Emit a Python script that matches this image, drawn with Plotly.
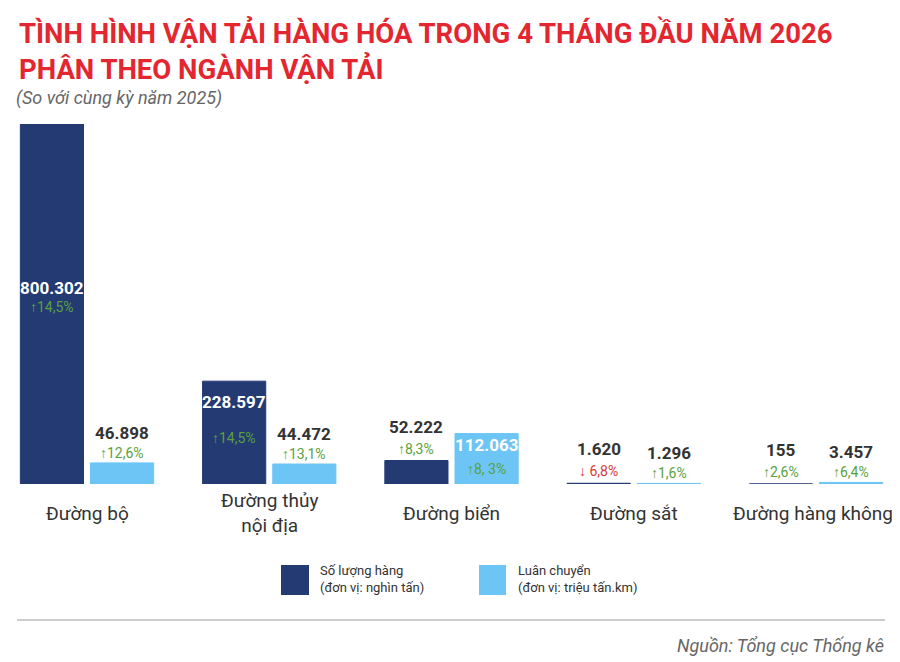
import plotly.graph_objects as go

categories = ["Đường bộ", "Đường thủy<br>nội địa", "Đường biển", "Đường sắt", "Đường hàng không"]
so_luong = [800302, 228597, 52222, 1620, 155]          # nghìn tấn
luan_chuyen = [46898, 44472, 112063, 1296, 3457]        # triệu tấn.km
so_luong_lbl = ["800.302", "228.597", "52.222", "1.620", "155"]
luan_chuyen_lbl = ["46.898", "44.472", "112.063", "1.296", "3.457"]
so_luong_pct = ["↑14,5%", "↑14,5%", "↑8,3%", "↓ 6,8%", "↑2,6%"]
luan_chuyen_pct = ["↑12,6%", "↑13,1%", "↑8, 3%", "↑1,6%", "↑6,4%"]

DARK = "#233a73"
LIGHT = "#6cc5f5"
GREEN = "#5aa13c"
RED = "#d83a3a"
FONT = "Roboto"
W, H = 892, 654  # page has an 8px offset


def px(p):
    # page pixel x -> paper fraction
    return (p - 8) / W


def py(p):
    # page pixel y -> paper fraction (plot area spans page y 124..484)
    return (484 - p) / 360


x = list(range(len(categories)))
fig = go.Figure()
fig.add_trace(go.Bar(x=x, y=so_luong, marker=dict(color=DARK, line=dict(color=DARK, width=1)),
                     name="Số lượng hàng"))
fig.add_trace(go.Bar(x=x, y=luan_chuyen, marker=dict(color=LIGHT, line=dict(color=LIGHT, width=1)),
                     name="Luân chuyển"))

off = 0.1925
ann = []


def label(xv, yv, txt, pct, color, vshift, pshift):
    ann.append(dict(x=xv, y=yv, text=f"<b>{txt}</b>", showarrow=False, yshift=vshift,
                    font=dict(family=FONT, size=17, color=color)))
    pc = RED if pct.startswith("↓") else GREEN
    ann.append(dict(x=xv, y=yv, text=pct, showarrow=False, yshift=pshift,
                    font=dict(family=FONT, size=14, color=pc)))


for i in x:
    if i == 0:
        label(i - off, so_luong[i], so_luong_lbl[i], so_luong_pct[i], "white", -164, -183)
    elif i == 1:
        label(i - off, so_luong[i], so_luong_lbl[i], so_luong_pct[i], "white", -21, -57)
    else:
        label(i - off, so_luong[i], so_luong_lbl[i], so_luong_pct[i], "#333333", 34, 12)
    if i == 2:
        label(i + off, luan_chuyen[i], luan_chuyen_lbl[i], luan_chuyen_pct[i], "white", -11, -35)
    else:
        label(i + off, luan_chuyen[i], luan_chuyen_lbl[i], luan_chuyen_pct[i], "#333333", 30, 10)

# category labels under the groups
for i, c in enumerate(categories):
    last = i == len(categories) - 1
    ann.append(dict(x=i, y=0, yshift=-29, yanchor="middle", xanchor="center",
                    xshift=-3 if last else 0,
                    text=c, showarrow=False, font=dict(family=FONT, size=19, color="#333333")))

ann += [
    dict(xref="paper", yref="paper", x=px(17), y=py(14), xanchor="left", yanchor="top",
         align="left", showarrow=False,
         text="<b>TÌNH HÌNH VẬN TẢI HÀNG HÓA TRONG 4 THÁNG ĐẦU NĂM 2026<br>PHÂN THEO NGÀNH VẬN TẢI</b>",
         font=dict(family=FONT, size=27.5, color="#e3262f")),
    dict(xref="paper", yref="paper", x=px(14), y=py(98), xanchor="left", yanchor="middle",
         showarrow=False, text="<i>(So với cùng kỳ năm 2025)</i>",
         font=dict(family=FONT, size=18, color="#666666")),
    dict(xref="paper", yref="paper", x=px(886), y=py(645), xanchor="right", yanchor="middle",
         showarrow=False, text="<i>Nguồn: Tổng cục Thống kê</i>",
         font=dict(family=FONT, size=18, color="#666666")),
    dict(xref="paper", yref="paper", x=px(318), y=py(579), xanchor="left", yanchor="middle",
         align="left", showarrow=False, text="Số lượng hàng<br>(đơn vị: nghìn tấn)",
         font=dict(family=FONT, size=13, color="#333333")),
    dict(xref="paper", yref="paper", x=px(516), y=py(579), xanchor="left", yanchor="middle",
         align="left", showarrow=False, text="Luân chuyển<br>(đơn vị: triệu tấn.km)",
         font=dict(family=FONT, size=13, color="#333333")),
]

shapes = [
    dict(type="rect", xref="paper", yref="paper", x0=px(281), x1=px(309), y0=py(595), y1=py(565),
         fillcolor=DARK, line=dict(width=0)),
    dict(type="rect", xref="paper", yref="paper", x0=px(479), x1=px(506), y0=py(595), y1=py(565),
         fillcolor=LIGHT, line=dict(width=0)),
    dict(type="line", xref="paper", yref="paper", x0=px(17), x1=px(885), y0=py(620), y1=py(620),
         line=dict(color="#cccccc", width=2)),
]

fig.update_layout(
    width=W, height=H, margin=dict(l=0, r=0, t=116, b=178),
    plot_bgcolor="white", paper_bgcolor="white", showlegend=False,
    barmode="group", bargap=0.23, bargroupgap=0.1,
    annotations=ann, shapes=shapes,
    xaxis=dict(range=[-0.4335, 4.461], showticklabels=False, showgrid=False,
               zeroline=False, ticks="", automargin=False),
    yaxis=dict(range=[0, 800302], visible=False, automargin=False),
)

fig.write_html("out.html")
